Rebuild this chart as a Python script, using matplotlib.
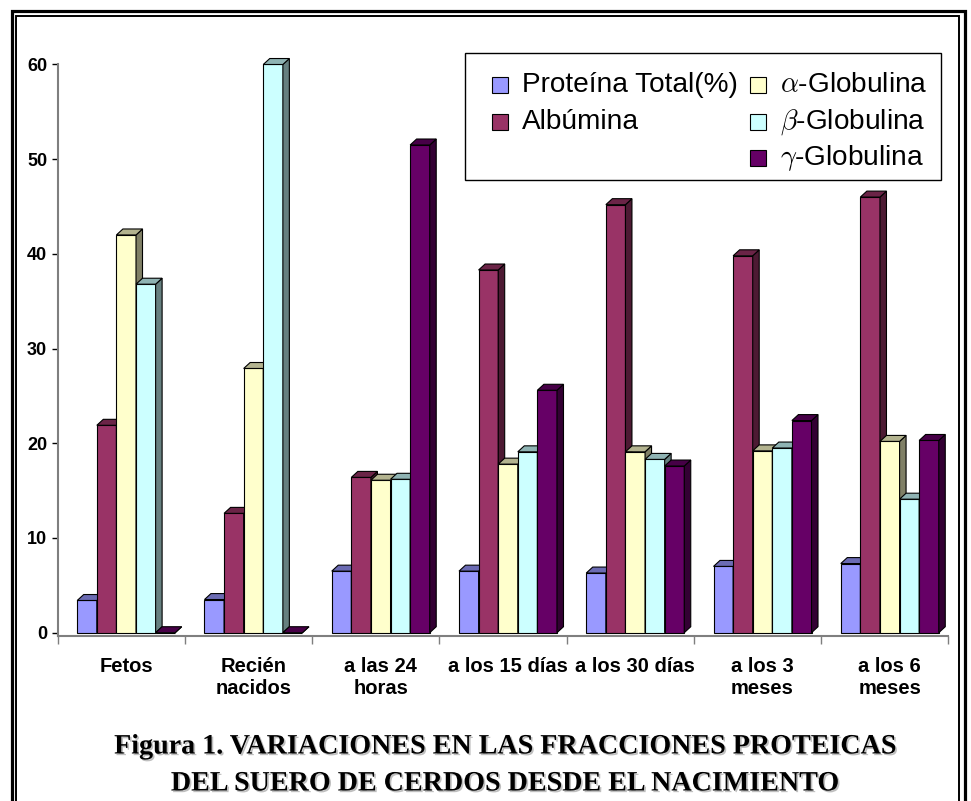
import numpy as np
import matplotlib.pyplot as plt
from matplotlib.patches import Polygon, Rectangle
from matplotlib.colors import to_rgb
import matplotlib.patheffects as pe

plt.rcParams['font.family'] = ['Liberation Sans', 'DejaVu Sans']
plt.rcParams['mathtext.fontset'] = 'cm'

categorias = ['Fetos', 'Recién\nnacidos', 'a las 24\nhoras', 'a los 15 días',
              'a los 30 días', 'a los 3\nmeses', 'a los 6\nmeses']
series = ['Proteína Total(%)', 'Albúmina', r'$\alpha$-Globulina',
          r'$\beta$-Globulina', r'$\gamma$-Globulina']
proteina = [3.4, 3.5, 6.5, 6.5, 6.3, 7.0, 7.3]
albumina = [21.9, 12.6, 16.4, 38.3, 45.2, 39.8, 46.0]
alfa = [42.0, 27.9, 16.1, 17.8, 19.1, 19.2, 20.2]
beta = [36.8, 60.0, 16.2, 19.1, 18.3, 19.5, 14.1]
gamma = [0.0, 0.0, 51.5, 25.6, 17.6, 22.4, 20.3]
colores = ['#9999FF', '#993366', '#FFFFCC', '#CCFFFF', '#660066']
valores = [proteina, albumina, alfa, beta, gamma]


def oscuro(c, f):
    return tuple(np.array(to_rgb(c)) * f)


W, H = 971, 801
fig = plt.figure(figsize=(W / 100, H / 100), dpi=100)


def fx(px):
    return px / W


def fy(py):
    # píxeles medidos desde arriba
    return 1 - py / H


# ejes: 0 -> 632.7 px, 60 -> 64.5 px, categorías de 127.3 px desde x=57.5
ax = fig.add_axes([fx(57.5), fy(636), 7.05 * 127.26 / W, 62.35 * 9.47 / H])
ax.set_xlim(0, 7.05)
ax.set_ylim(-0.35, 62)

w = 0.154
dx, dy = 0.051, 0.63
xc = np.arange(len(categorias)) + 0.5

for i, (vals, col) in enumerate(zip(valores, colores)):
    x = xc + 0.04 + (i - 2) * w
    z = 2 + i
    ax.bar(x, vals, width=w, color=col, edgecolor='black', linewidth=0.8, zorder=z)
    for xi, v in zip(x, vals):
        x0, x1 = xi - w / 2, xi + w / 2
        lado = Polygon([(x1, 0), (x1 + dx, dy), (x1 + dx, v + dy), (x1, v)],
                       closed=True, facecolor=oscuro(col, 0.5), edgecolor='black',
                       linewidth=0.8, zorder=z)
        tapa = Polygon([(x0, v), (x0 + dx, v + dy), (x1 + dx, v + dy), (x1, v)],
                       closed=True, facecolor=oscuro(col, 0.7), edgecolor='black',
                       linewidth=0.8, zorder=z)
        ax.add_patch(lado)
        ax.add_patch(tapa)

for s in ['top', 'right']:
    ax.spines[s].set_visible(False)
ax.spines['left'].set_bounds(-0.35, 60)
ax.spines['bottom'].set_bounds(0, 7)
for s in ['left', 'bottom']:
    ax.spines[s].set_color('#7f7f7f')
    ax.spines[s].set_linewidth(1.5)

ax.set_yticks(range(0, 61, 10))
ax.tick_params(axis='y', direction='out', length=4.5, width=1, pad=3,
               labelsize=13)
for t in ax.get_yticklabels():
    t.set_fontweight('bold')

ax.set_xticks(range(0, 8))
ax.set_xticklabels([])
ax.tick_params(axis='x', which='major', direction='out', length=6, width=1,
               color='#7f7f7f')
ax.set_xticks(xc + 0.04, minor=True)
ax.set_xticklabels(categorias, minor=True, fontsize=14.5, fontweight='bold',
                   linespacing=1.2)
ax.tick_params(axis='x', which='minor', length=0, pad=15)

# leyenda en dos columnas (3 filas, la primera columna con 2 entradas)
fig.add_artist(Rectangle((fx(465), fy(180)), fx(941) - fx(465), fy(53) - fy(180),
                         transform=fig.transFigure, facecolor='white',
                         edgecolor='black', linewidth=1.0, zorder=10))
filas = [85, 121.7, 158.3]
posiciones = [(0, 0), (0, 1), (1, 0), (1, 1), (1, 2)]
x_cuadro = [492, 750]
for (c, f), nombre, col in zip(posiciones, series, colores):
    y = filas[f]
    fig.add_artist(Rectangle((fx(x_cuadro[c]), fy(y + 8)), 16 / W, 16 / H,
                             transform=fig.transFigure, facecolor=col,
                             edgecolor='black', linewidth=0.8, zorder=11))
    fig.text(fx(x_cuadro[c] + 29.5), fy(y), nombre, fontsize=20.2,
             ha='left', va='center', zorder=11)

sombra = [pe.withSimplePatchShadow(offset=(1.2, -1.2), shadow_rgbFace='gray',
                                   alpha=0.5)]
fig.text(fx(505), fy(747), 'Figura 1. VARIACIONES EN LAS FRACCIONES PROTEICAS',
         ha='center', va='center', family='Liberation Serif', fontweight='bold',
         fontsize=20.2, path_effects=sombra)
fig.text(fx(505), fy(784), 'DEL SUERO DE CERDOS DESDE EL NACIMIENTO',
         ha='center', va='center', family='Liberation Serif', fontweight='bold',
         fontsize=20.2, path_effects=sombra)

# marco doble
fig.add_artist(Rectangle((fx(11.7), -0.05), (965 - 11.7) / W, 1 - 10.8 / H + 0.05,
                         transform=fig.transFigure, fill=False,
                         edgecolor='black', linewidth=2.3))
fig.add_artist(Rectangle((fx(16), -0.05), (959.3 - 16) / W, 1 - 15.5 / H + 0.05,
                         transform=fig.transFigure, fill=False,
                         edgecolor='black', linewidth=1.4))

fig.savefig('out.png', dpi=100, facecolor='white')
